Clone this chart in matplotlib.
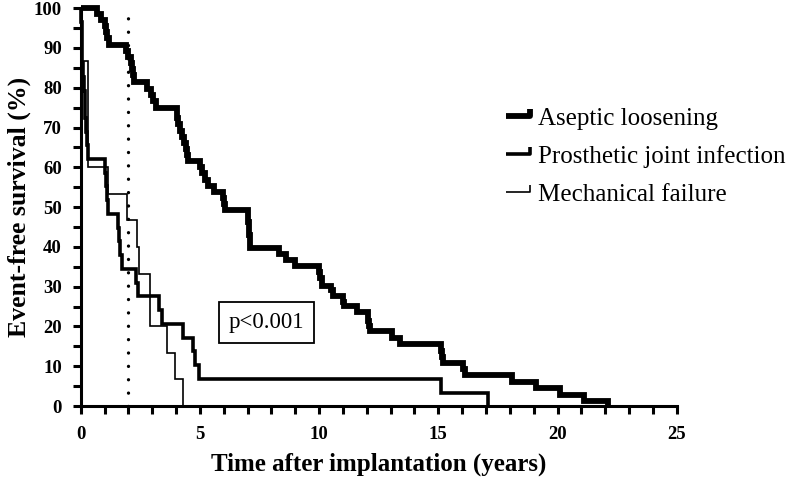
import matplotlib
matplotlib.use("Agg")
import matplotlib.pyplot as plt
from matplotlib.path import Path
from matplotlib.lines import Line2D

plt.rcParams['font.family'] = ['Liberation Serif', 'DejaVu Serif']

# ---- data (time in years, event-free survival in %) ----
aseptic_t = [0, 0.67, 0.85, 1.0, 1.05, 1.1, 1.2, 1.9, 2.0, 2.1, 2.15, 2.2, 2.25,
             2.8, 2.95, 3.05, 3.15, 4.05, 4.1, 4.15, 4.25, 4.35, 4.4, 4.45, 4.5,
             5.0, 5.1, 5.2, 5.35, 5.6, 5.95, 6.0, 6.05, 7.0, 7.02, 7.04, 7.06, 7.08,
             7.1, 8.3, 8.6, 9.0, 10.0, 10.05, 10.1, 10.5, 10.6, 11.0, 11.05, 11.6,
             12.05, 12.1, 12.15, 13.05, 13.4, 15.1, 15.15, 15.2, 16.05, 16.1, 18.1,
             19.1, 20.1, 21.1, 22.1]
aseptic_v = [100, 98.5, 97, 95.5, 94, 92.5, 90.8, 89.2, 87.7, 86.2, 84.7, 83.2, 81.5,
             79.7, 78.2, 76.7, 75.0, 72.3, 70.8, 69.2, 67.7, 66.2, 64.6, 63.1, 61.5,
             60, 58.5, 56.9, 55.4, 53.8, 52.3, 50.8, 49.2, 47.7, 46.2, 44.6, 43.1, 41.5,
             39.8, 38.3, 36.8, 35.2, 33.8, 32.3, 30.3, 29.2, 27.7, 26.2, 25.2, 23.6,
             21.5, 20.0, 18.8, 17.2, 15.6, 13.8, 12.3, 10.9, 9.2, 7.8, 6.0,
             4.5, 2.9, 1.2, 0]

pji_t = [0, 0.02, 0.04, 0.05, 0.06, 0.08, 0.12, 0.16, 0.2, 0.22, 0.26, 0.3,
         1.0, 1.05, 1.1, 1.15, 1.55, 1.6, 1.65, 1.75, 2.3, 2.4, 3.3, 3.4,
         4.3, 4.7, 4.8, 4.95, 15.1, 17.1]
pji_v = [100, 96.6, 93.1, 89.7, 86.2, 82.8, 79.3, 75.9, 72.4, 69.0, 65.5, 62.1,
         58.6, 55.2, 51.7, 48.3, 44.8, 41.4, 37.9, 34.5, 31.0, 27.6, 24.1, 20.7,
         17.2, 13.8, 10.3, 6.9, 3.4, 0]

mech_t = [0, 0.03, 0.05, 0.3, 0.305, 0.31, 0.32, 1.13, 1.93, 2.35, 2.45,
          2.9, 2.91, 3.6, 3.95, 4.3]
mech_v = [100, 93.3, 86.7, 80.0, 73.3, 66.7, 60.0, 53.3, 46.7, 40.0, 33.3,
          26.7, 20.0, 13.3, 6.7, 0]

series_names = ["Aseptic loosening", "Prosthetic joint infection", "Mechanical failure"]
landmark_year = 2
p_text = "p<0.001"
x_ticks = [0, 5, 10, 15, 20, 25]
y_ticks = list(range(0, 101, 10))

# ---- figure ----
fig = plt.figure(figsize=(7.99, 4.80), dpi=100)
ax = fig.add_axes([0.101, 0.154, 0.746, 0.829])

lws = [4.2, 2.6, 1.2]
for (t, v), lw in zip([(aseptic_t, aseptic_v), (pji_t, pji_v), (mech_t, mech_v)], lws):
    ax.step(t, v, where='post', color='black', lw=lw, solid_joinstyle='miter',
            solid_capstyle='butt', clip_on=False, zorder=3)

ax.axvline(landmark_year, color='black', lw=2.4, linestyle=(0, (0.01, 4.0)),
           dash_capstyle='round', zorder=2)

ax.set_xlim(0, 25)
ax.set_ylim(0, 100)
ax.set_xticks(x_ticks)
ax.set_xticks([i for i in range(0, 26)], minor=True)
ax.set_yticks(y_ticks)
ax.set_yticks(list(range(5, 100, 10)), minor=True)
ax.set_xticklabels([str(x) for x in x_ticks], fontsize=13.5, fontweight='bold')
ax.set_yticklabels([str(y) for y in y_ticks], fontsize=13.5, fontweight='bold')

for s in ['top', 'right']:
    ax.spines[s].set_visible(False)
for s in ['left', 'bottom']:
    ax.spines[s].set_linewidth(2.2)
ax.tick_params(which='both', direction='out', width=2.2, length=5.5, color='black')
ax.tick_params(axis='x', which='major', pad=9)
ax.tick_params(axis='y', which='major', pad=8)

ax.set_xlabel("Time after implantation (years)", fontsize=18, fontweight='bold', labelpad=7)
ax.set_ylabel("Event-free survival (%)", fontsize=18.5, fontweight='bold', labelpad=2)

ax.text(7.8, 21, p_text, fontsize=16.5, ha='center', va='center',
        bbox=dict(boxstyle='square,pad=0.42', fc='white', ec='black', lw=1.3))

# legend with step + censor-tick handles
marker_path = Path([(-1, 0), (1, 0), (1, 0.6)], [Path.MOVETO, Path.LINETO, Path.LINETO])
handles = [Line2D([], [], linestyle='none', marker=marker_path, markersize=17,
                  markerfacecolor='none', markeredgecolor='black', markeredgewidth=lw)
           for lw in lws]
ax.legend(handles, series_names, loc='upper left', bbox_to_anchor=(0.696, 0.775),
          frameon=False, fontsize=18, handlelength=1.0, handletextpad=0.3,
          labelspacing=0.6, borderaxespad=0)

fig.savefig("out.png", dpi=100)
